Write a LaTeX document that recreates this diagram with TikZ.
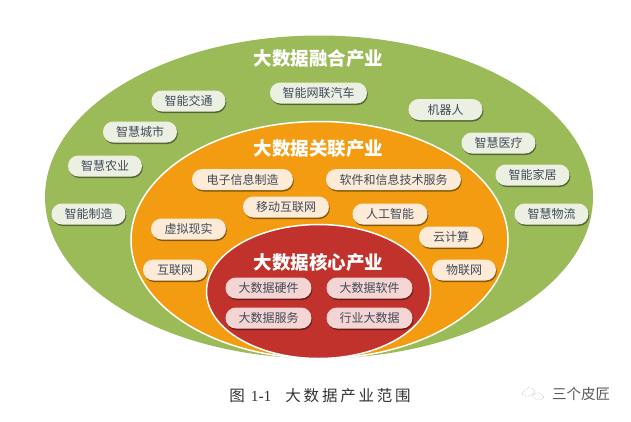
\documentclass[tikz,border=0pt]{standalone}
\usepackage{fontspec}
\setmainfont{Noto Sans CJK SC}
\newfontfamily\capfont[LetterSpace=18]{Noto Sans CJK SC}
\newfontfamily\numfont{Liberation Serif}
\usetikzlibrary{shapes.geometric}
\usetikzlibrary{shadows}
\definecolor{outergreen}{HTML}{9BBB59}
\definecolor{midorange}{HTML}{F39C12}
\definecolor{corered}{HTML}{C0322B}
\definecolor{pilltext}{HTML}{3F4A5A}
\definecolor{greenpill}{HTML}{EBF0E2}
\definecolor{orangepill}{HTML}{FDEBD8}
\definecolor{redpill}{HTML}{F4D5D4}

\begin{document}
\begin{tikzpicture}[%
    x=1pt,y=-1pt,
    ringnode/.style={ellipse, inner sep=0pt, line width=1.5pt},
    title/.style={text=white, font=\bfseries\fontsize{18.5}{20}\selectfont, inner sep=0pt},
    pillnode/.style={rectangle, rounded corners=10.4pt, minimum height=21pt, inner sep=0pt, text=pilltext, font=\fontsize{12}{14}\selectfont, drop shadow={shadow xshift=0.8pt, shadow yshift=-1.5pt, fill=black, opacity=0.45}},
    gpill/.style={pillnode, fill=greenpill, minimum width=74pt},
    opill/.style={pillnode, fill=orangepill},
    rpill/.style={pillnode, fill=redpill, minimum width=86pt},
    iconline/.style={draw=black!35, densely dotted, line width=0.5pt},
]
\useasboundingbox (0,0) rectangle (631,421);

% Rings
\node[ringnode, fill=outergreen, minimum width=548pt, minimum height=323pt] (outerring) at (319,197) {};
\node[ringnode, fill=midorange, draw=white, minimum width=377pt, minimum height=237pt] (midring) at (319.5,240) {};
\node[ringnode, fill=corered, draw=white, minimum width=224pt, minimum height=134pt] (corering) at (318.5,291.5) {};

% Titles
\node[title] (outertitle) at (318.5,59) {大数据融合产业};
\node[title] (midtitle) at (318.5,149) {大数据关联产业};
\node[title] (coretitle) at (318.5,262) {大数据核心产业};

% Green pills
\node[gpill, minimum width=97pt] (cars) at (318.5,93) {智能网联汽车};
\node[gpill] (traffic) at (188.5,101) {智能交通};
\node[gpill] (city) at (140,132) {智慧城市};
\node[gpill] (farm) at (105,166) {智慧农业};
\node[gpill] (factory) at (88.5,214) {智能制造};
\node[gpill] (robot) at (445.5,109.5) {机器人};
\node[gpill] (medical) at (498.5,143) {智慧医疗};
\node[gpill] (home) at (532.5,175) {智能家居};
\node[gpill] (logistics) at (551.5,214) {智慧物流};

% Orange pills
\node[opill, minimum width=101pt] (electronics) at (242.5,179.5) {电子信息制造};
\node[opill, minimum width=135pt] (software) at (393.5,179.5) {软件和信息技术服务};
\node[opill, minimum width=86pt] (mobile) at (286,207) {移动互联网};
\node[opill, minimum width=75pt] (ai) at (390,214) {人工智能};
\node[opill, minimum width=75pt] (vr) at (188.5,229) {虚拟现实};
\node[opill, minimum width=64pt] (cloud) at (451,237) {云计算};
\node[opill, minimum width=64pt] (internet) at (175,270) {互联网};
\node[opill, minimum width=64pt] (iot) at (464,270) {物联网};

% Red pills
\node[rpill] (hardware) at (268.5,288) {大数据硬件};
\node[rpill] (soft) at (369.5,288) {大数据软件};
\node[rpill] (service) at (268.5,318) {大数据服务};
\node[rpill] (industry) at (369.5,318) {行业大数据};

% Caption
\node[font=\fontsize{15.5}{17}\selectfont, text=black!80, inner sep=0pt] (caption) at (320,396) {\capfont 图\hspace{6pt}{\numfont 1-1}\hspace{14pt}大数据产业范围};

% Watermark
\draw[iconline] (522,394) .. controls (526,386) and (532,386) .. (535,391) .. controls (531,397) and (527,398) .. (522,394);
\draw[iconline] (532,396) .. controls (535,391) and (541,392) .. (544,397) .. controls (541,401) and (536,401) .. (532,396);
\node[font=\fontsize{14.5}{16}\selectfont, text=black!65, inner sep=0pt] (account) at (581,394) {三个皮匠};

\end{tikzpicture}
\end{document}
